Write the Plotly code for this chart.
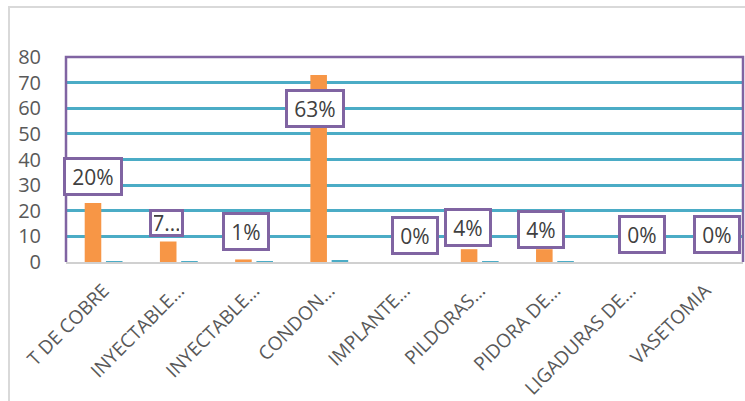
import plotly.graph_objects as go

categories = ["T DE COBRE", "INYECTABLE…", "INYECTABLE…", "CONDON…", "IMPLANTE…",
              "PILDORAS…", "PIDORA DE…", "LIGADURAS DE…", "VASETOMIA"]
cantidad = [23, 8, 1, 73, 0, 5, 5, 0, 0]
porcentaje = [0.20, 0.07, 0.01, 0.63, 0.0, 0.04, 0.04, 0.0, 0.0]
label_text = ["20%", "7…", "1%", "63%", "0%", "4%", "4%", "0%", "0%"]
y_ticks = [0, 10, 20, 30, 40, 50, 60, 70, 80]

# label placement (layout, not data)
label_y = [33.5, 15.1, 11.8, 59.8, 10.4, 13.4, 12.5, 10.6, 10.6]
label_dx = [-0.142, -0.168, -0.11, -0.194, 0.145, -0.156, -0.184, 0.153, 0.149]

ORANGE = "#F79646"
TEAL = "#4BACC6"
PURPLE = "#8064A2"
GREY_TXT = "#595959"

xs = list(range(len(categories)))

fig = go.Figure()
fig.add_bar(x=xs, y=cantidad, marker=dict(color=ORANGE, line=dict(width=0)), name="Cantidad")
fig.add_bar(x=xs, y=porcentaje, marker=dict(color=TEAL, line=dict(width=0)), name="Porcentaje")

annotations = []
for i, t in enumerate(label_text):
    small = "…" in t
    annotations.append(dict(
        x=xs[i] + label_dx[i], y=label_y[i], xref="x", yref="y",
        text=t, showarrow=False,
        font=dict(family="Open Sans", size=21, color="#404040"),
        bgcolor="white", bordercolor=PURPLE, borderwidth=3,
        borderpad=2 if small else 4,
        width=25 if small else (12 * len(t) + 10),
        height=18 if small else 25,
    ))

shapes = [
    # plot-area border (left, top, right)
    dict(type="path", xref="paper", yref="paper", path="M 0,0 L 0,1 L 1,1 L 1,0",
         line=dict(color=PURPLE, width=2.5), layer="above"),
    # outer chart border (left & top visible)
    dict(type="path", xref="paper", yref="paper",
         path="M -0.0842,-0.70 L -0.0842,1.2439 L 1.02,1.2439",
         line=dict(color="#D9D9D9", width=2), layer="above"),
]

fig.update_layout(
    width=745, height=401,
    margin=dict(l=66, r=2, t=57, b=139),
    paper_bgcolor="white", plot_bgcolor="white",
    barmode="group", bargap=0.435, bargroupgap=0.22,
    showlegend=False,
    annotations=annotations, shapes=shapes,
    xaxis=dict(
        tickmode="array", tickvals=xs, ticktext=categories,
        range=[-0.5, len(categories) - 0.5],
        tickangle=-45, tickfont=dict(family="Open Sans", size=19, color=GREY_TXT),
        showgrid=False, zeroline=False,
        showline=True, linecolor="#D0D0D0", linewidth=2,
        ticks="outside", ticklen=8, tickcolor="rgba(0,0,0,0)",
    ),
    yaxis=dict(
        range=[0, 80], tickvals=y_ticks,
        tickfont=dict(family="Open Sans", size=20, color=GREY_TXT),
        showgrid=True, gridcolor=TEAL, gridwidth=3,
        zeroline=False, showline=False,
        ticks="outside", ticklen=20, tickcolor="rgba(0,0,0,0)",
    ),
)

fig.write_html("out.html")
